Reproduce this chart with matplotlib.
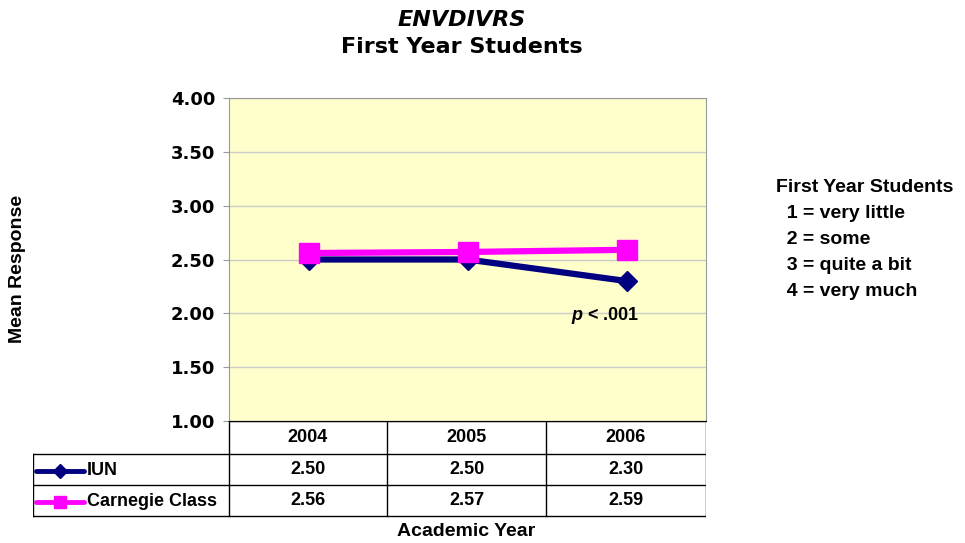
import matplotlib.pyplot as plt
from matplotlib.lines import Line2D

plt.rcParams['font.family'] = ['Liberation Sans', 'DejaVu Sans']
plt.rcParams['mathtext.fontset'] = 'custom'
plt.rcParams['mathtext.it'] = 'Liberation Sans:italic:bold'

years = ["2004", "2005", "2006"]
series_names = ["IUN", "Carnegie Class"]
iun = [2.50, 2.50, 2.30]
carnegie = [2.56, 2.57, 2.59]
yticks = [1.00, 1.50, 2.00, 2.50, 3.00, 3.50, 4.00]
scale_lines = ["First Year Students", "  1 = very little", "  2 = some",
               "  3 = quite a bit", "  4 = very much"]

W, H = 965, 543
fig = plt.figure(figsize=(W / 100, H / 100), dpi=100)

def fx(px):
    return px / W

def fy(py):
    return 1 - py / H

# main plot area
ax = fig.add_axes([fx(229), fy(421), fx(706) - fx(229), fy(98) - fy(421)])
ax.set_facecolor("#FFFFCC")
x = list(range(len(years)))
ax.plot(x, iun, color="#000080", lw=4.5, marker="D", ms=10, zorder=3)
ax.plot(x, carnegie, color="#FF00FF", lw=4.5, marker="s", ms=14, zorder=4)
ax.set_xlim(-0.5, len(years) - 0.5)
ax.set_ylim(1.0, 4.0)
ax.set_yticks(yticks)
ax.set_yticklabels([f"{v:.2f}" for v in yticks], fontsize=13,
                   fontweight="bold", family="DejaVu Sans")
ax.set_xticks([])
ax.grid(axis="y", color="#CCCCCC", lw=1)
ax.set_axisbelow(True)
for s in ["top", "right", "left"]:
    ax.spines[s].set_color("#999999")
ax.spines["bottom"].set_color("black")
ax.tick_params(axis="y", length=4, color="#999999", pad=6)
ax.text(2.08, 1.98, "$p$ < .001", fontsize=13,
        fontweight="bold", ha="right", va="center")

# data table under the axis
tab = fig.add_axes([fx(33), fy(518), fx(706) - fx(33), fy(421) - fy(518)])
tab.set_xlim(33, 706)
tab.set_ylim(518, 421)
tab.axis("off")
cols = [229, 387, 546, 706]
rows = [421, 454, 485, 516]
kw = dict(color="black", lw=1)
tab.plot([cols[0], cols[-1]], [rows[0], rows[0]], **kw)
for r in rows[1:]:
    tab.plot([33, cols[-1]], [r, r], **kw)
for c in cols:
    tab.plot([c, c], [rows[0], rows[-1]], **kw)
tab.plot([33, 33], [rows[1], rows[-1]], **kw)

for i, yr in enumerate(years):
    cx = (cols[i] + cols[i + 1]) / 2
    tab.text(cx, (rows[0] + rows[1]) / 2, yr, ha="center", va="center",
             fontsize=13, fontweight="bold")
    tab.text(cx, (rows[1] + rows[2]) / 2, f"{iun[i]:.2f}", ha="center",
             va="center", fontsize=13, fontweight="bold")
    tab.text(cx, (rows[2] + rows[3]) / 2, f"{carnegie[i]:.2f}", ha="center",
             va="center", fontsize=13, fontweight="bold")

styles = [("#000080", "D", 7), ("#FF00FF", "s", 9)]
for j, (name, (col, mk, ms)) in enumerate(zip(series_names, styles)):
    ym = (rows[j + 1] + rows[j + 2]) / 2 + 1
    tab.add_line(Line2D([36, 84], [ym, ym], color=col, lw=3.5,
                        solid_capstyle="round"))
    tab.add_line(Line2D([60], [ym], color=col, marker=mk, ms=ms))
    tab.text(87, ym, name, ha="left", va="center", fontsize=13,
             fontweight="bold")

# titles and labels
fig.text(fx(462), fy(20), "ENVDIVRS", ha="center", va="center",
         fontsize=16, fontweight="bold", style="italic", family="DejaVu Sans")
fig.text(fx(462), fy(47), "First Year Students", ha="center", va="center",
         fontsize=16, fontweight="bold", family="DejaVu Sans")
fig.text(fx(466), fy(531), "Academic Year", ha="center", va="center",
         fontsize=14, fontweight="bold")
fig.text(fx(18), fy(269), "Mean Response", ha="center", va="center",
         rotation=90, fontsize=14, fontweight="bold")

for k, line in enumerate(scale_lines):
    fig.text(fx(776), fy(187 + 26 * k), line, ha="left", va="center",
             fontsize=14, fontweight="bold")

fig.savefig("out.png", dpi=100)
